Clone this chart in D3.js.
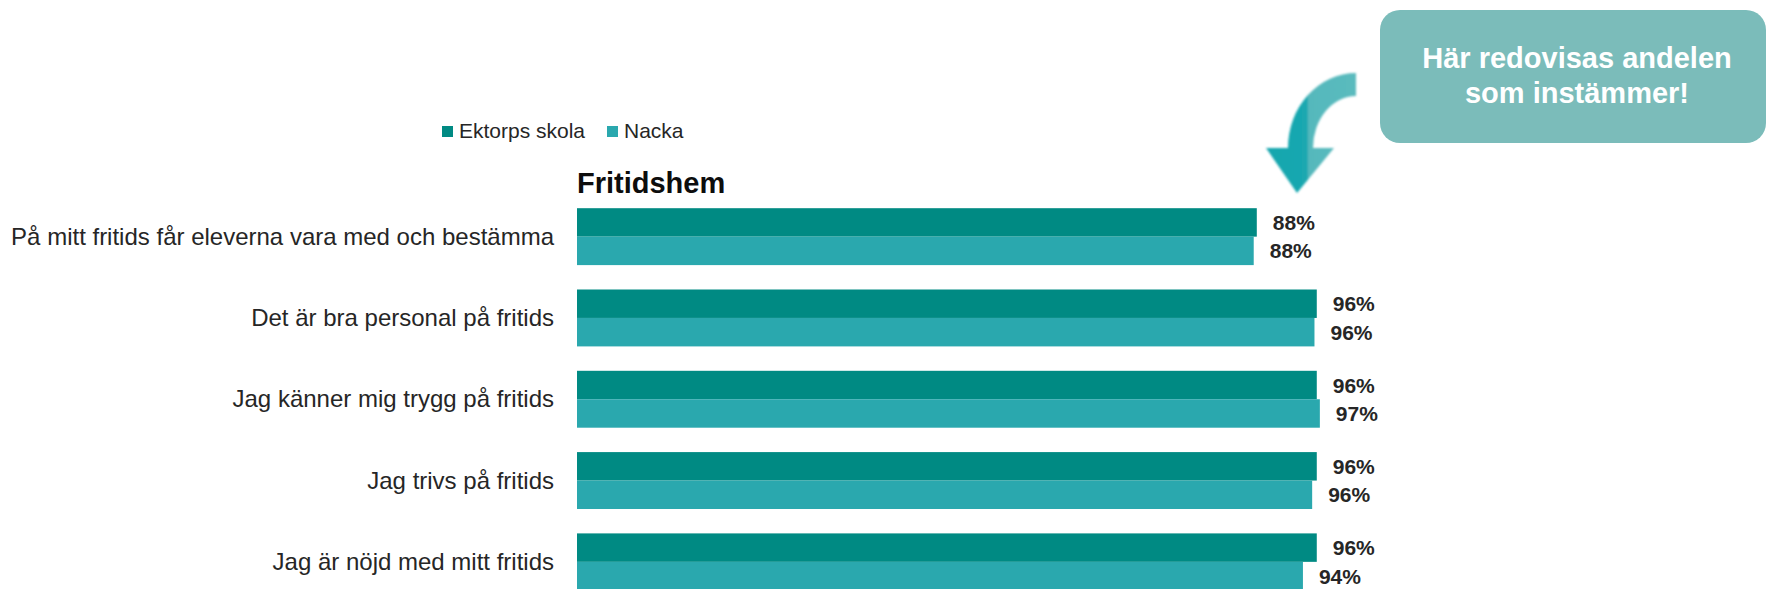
<!DOCTYPE html>
<html lang="sv">
<head>
    <meta charset="UTF-8">
    <title>Fritidshem</title>
    <script src="https://cdnjs.cloudflare.com/ajax/libs/d3/7.8.5/d3.min.js"></script>
    <style>
        body { margin: 0; background: #fff; }
        text { font-family: "Liberation Sans", Arial, sans-serif; }
    </style>
</head>
<body>
    <div id="wrapper"></div>
    <script>
        // data
        const categories = [
            'På mitt fritids får eleverna vara med och bestämma',
            'Det är bra personal på fritids',
            'Jag känner mig trygg på fritids',
            'Jag trivs på fritids',
            'Jag är nöjd med mitt fritids'
        ]
        const seriesNames = ['Ektorps skola', 'Nacka']
        const ektorps = [88.4, 96.2, 96.2, 96.2, 96.2]
        const nacka = [88.0, 95.9, 96.6, 95.6, 94.4]
        const chartTitle = 'Fritidshem'
        const calloutLines = ['Här redovisas andelen', 'som instämmer!']

        const colors = ['#008a83', '#2aa8ae']

        const width = 1766
        const height = 589

        const svg = d3.select('#wrapper')
            .append('svg')
                .attr('width', width)
                .attr('height', height)
                .attr('viewBox', `0 0 ${width} ${height}`)

        const rows = categories.map((c, i) => ({
            category: c,
            values: [ektorps[i], nacka[i]]
        }))

        // scales
        const xScale = d3.scaleLinear()
            .domain([0, 100])
            .range([577, 1346])

        const yScale = d3.scaleBand()
            .domain(categories)
            .range([196, 196 + 5 * 81.3])
            .paddingInner(0.3)
            .paddingOuter(0.15)

        const ySub = d3.scaleBand()
            .domain(seriesNames)
            .range([0, yScale.bandwidth()])

        const fmt = v => d3.format('.0f')(v) + '%'

        // bars
        const groups = svg.append('g')
            .selectAll('g')
            .data(rows)
            .join('g')
                .attr('transform', d => `translate(0, ${yScale(d.category)})`)

        groups.selectAll('rect')
            .data(d => d.values.map((v, j) => ({ name: seriesNames[j], value: v })))
            .join('rect')
                .attr('x', xScale(0))
                .attr('y', d => ySub(d.name))
                .attr('width', d => xScale(d.value) - xScale(0))
                .attr('height', ySub.bandwidth())
                .attr('fill', (d, j) => colors[j])

        groups.selectAll('text.value')
            .data(d => d.values.map((v, j) => ({ name: seriesNames[j], value: v })))
            .join('text')
                .attr('class', 'value')
                .attr('x', d => xScale(d.value) + 16)
                .attr('y', d => ySub(d.name) + ySub.bandwidth() / 2)
                .attr('dy', '0.36em')
                .attr('font-size', 21)
                .attr('font-weight', 'bold')
                .attr('fill', '#262626')
                .text(d => fmt(d.value))

        // category labels
        svg.append('g')
            .selectAll('text')
            .data(categories)
            .join('text')
                .attr('x', 554)
                .attr('y', d => yScale(d) + yScale.bandwidth() / 2)
                .attr('dy', '0.34em')
                .attr('text-anchor', 'end')
                .attr('font-size', 24)
                .attr('fill', '#262626')
                .text(d => d)

        // title
        svg.append('text')
            .attr('x', 577)
            .attr('y', 193)
            .attr('font-size', 29)
            .attr('font-weight', 'bold')
            .attr('fill', '#0d0d0d')
            .text(chartTitle)

        // legend
        const legendX = [442, 607]
        const legend = svg.append('g')
            .selectAll('g')
            .data(seriesNames)
            .join('g')
                .attr('transform', (d, i) => `translate(${legendX[i]}, 126)`)
        legend.append('rect')
            .attr('width', 11)
            .attr('height', 11)
            .attr('fill', (d, i) => colors[i])
        legend.append('text')
            .attr('x', 17)
            .attr('y', 11.5)
            .attr('font-size', 21)
            .attr('fill', '#262626')
            .text(d => d)

        // callout box
        svg.append('rect')
            .attr('x', 1380)
            .attr('y', 10)
            .attr('width', 386)
            .attr('height', 133)
            .attr('rx', 20)
            .attr('fill', '#7bbcba')

        svg.append('g')
            .selectAll('text')
            .data(calloutLines)
            .join('text')
                .attr('x', 1577)
                .attr('y', (d, i) => 68 + i * 35)
                .attr('text-anchor', 'middle')
                .attr('font-size', 29)
                .attr('font-weight', 'bold')
                .attr('fill', '#fff')
                .text(d => d)

        // curved arrow
        const defs = svg.append('defs')
        const grad = defs.append('linearGradient')
            .attr('id', 'arrowGrad')
            .attr('x1', '0%').attr('y1', '0%')
            .attr('x2', '100%').attr('y2', '0%')
        grad.append('stop').attr('offset', '0%').attr('stop-color', '#17a6ae')
        grad.append('stop').attr('offset', '46%').attr('stop-color', '#1aa8b0')
        grad.append('stop').attr('offset', '47%').attr('stop-color', '#55b8bc')
        grad.append('stop').attr('offset', '100%').attr('stop-color', '#5bbbbe')
        defs.append('filter').attr('id', 'soft')
            .append('feGaussianBlur').attr('stdDeviation', 0.8)

        svg.append('path')
            .attr('d', 'M1356,73 A68,75 0 0 0 1288,148 L1266,148 L1297,193 L1334,148 L1313,148 A43,52 0 0 1 1356,96 Z')
            .attr('fill', 'url(#arrowGrad)')
            .attr('filter', 'url(#soft)')
    </script>
</body>
</html>
